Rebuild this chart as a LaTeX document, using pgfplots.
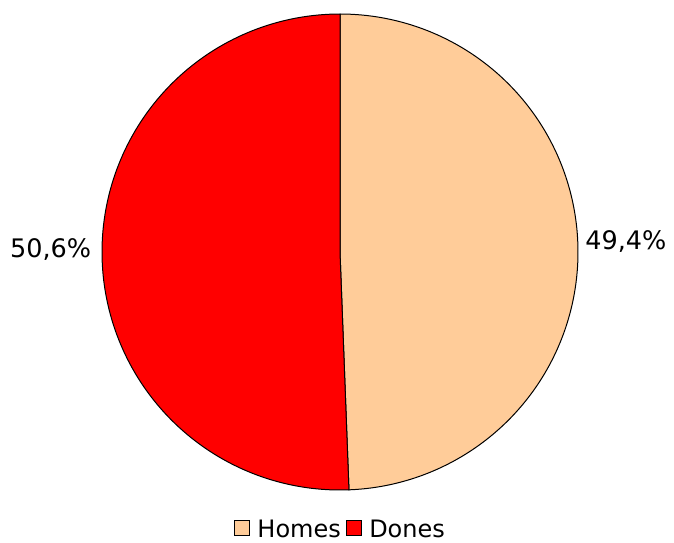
\documentclass[border=0pt]{standalone}
\usepackage{pgfplots}
\usepackage{pgfplotstable}
\pgfplotsset{compat=1.18}
\usepackage{fontspec}
\setmainfont{DejaVu Sans}
\definecolor{homes}{RGB}{255,204,153}
\definecolor{dones}{RGB}{255,0,0}
\pgfplotstableread{
label value
Homes 49.4
Dones 50.6
}\piedata
\begin{document}
\begin{tikzpicture}
\useasboundingbox (0pt,0pt) rectangle (674pt,542pt);
\pgfplotstablegetelem{0}{value}\of\piedata \let\va\pgfplotsretval
\pgfplotstablegetelem{1}{value}\of\piedata \let\vb\pgfplotsretval
\pgfmathsetmacro{\angA}{90-3.6*\va}
\pgfmathsetmacro{\angB}{\angA-3.6*\vb}
\begin{axis}[
  at={(340pt,290pt)}, anchor=center,
  scale only axis, width=476pt, height=476pt,
  xmin=-1, xmax=1, ymin=-1, ymax=1,
  hide axis, clip=false,
  legend columns=2,
  legend style={draw=none, fill=none, at={(0.5,-0.080)}, anchor=center,
    font=\fontsize{24}{28}\selectfont, inner sep=0pt,
    /tikz/every even column/.append style={column sep=4pt},
    nodes={inner sep=1pt, text depth=0pt, text height=18pt}},
  legend image code/.code={\draw[#1, draw=black, line width=0.8pt] (0pt,-7.5pt) rectangle (15pt,7.5pt);
     \path[draw=none, fill=none] (0pt,0pt) -- (22pt,0pt);},
]
\addplot[fill=homes, draw=black, line width=1pt, domain=\angA:90, samples=200, variable=\t]
  ({cos(\t)},{sin(\t)}) -- (axis cs:0,0) -- cycle;
\addlegendentry{Homes}
\addplot[fill=dones, draw=black, line width=1pt, domain=\angB:\angA, samples=200, variable=\t]
  ({cos(\t)},{sin(\t)}) -- (axis cs:0,0) -- cycle;
\addlegendentry{Dones}
\node[anchor=west, font=\fontsize{25.5}{30}\selectfont, inner sep=0pt] at (axis cs:1.03,0.043) {49,4\%};
\node[anchor=east, font=\fontsize{25.5}{30}\selectfont, inner sep=0pt] at (axis cs:-1.045,0.01) {50,6\%};
\end{axis}
\end{tikzpicture}
\end{document}
